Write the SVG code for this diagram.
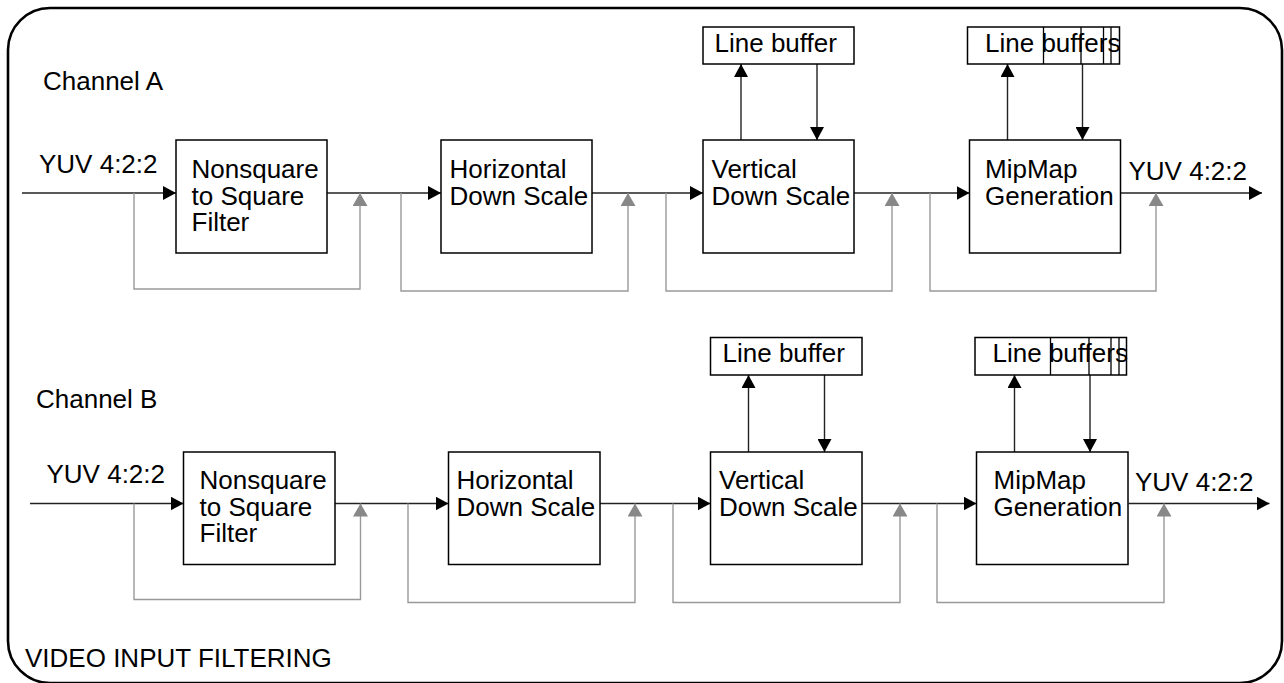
<svg xmlns="http://www.w3.org/2000/svg" width="1284" height="683" viewBox="0 0 1284 683">
  <style>
    text { font-family: "Liberation Sans", Arial, sans-serif; font-size: 26px; fill: #000; }
    .box { fill: #fff; stroke: #000; stroke-width: 1.5; }
    .div { stroke: #000; stroke-width: 1.3; fill: none; }
    .flow { fill: none; stroke: #222; stroke-width: 1.4; }
    .bypass { fill: none; stroke: #999; stroke-width: 1.4; }
    .frame { fill: none; stroke: #000; stroke-width: 2.6; }
  </style>
  <defs>
    <marker id="arrow" viewBox="0 0 13 14" refX="13" refY="7" markerWidth="13" markerHeight="14" markerUnits="userSpaceOnUse" orient="auto">
      <path d="M0,0 L13,7 L0,14 Z" fill="#000"/>
    </marker>
    <marker id="arrow-gray" viewBox="0 0 13 15" refX="13" refY="7.5" markerWidth="13" markerHeight="15" markerUnits="userSpaceOnUse" orient="auto">
      <path d="M0,0 L13,7.5 L0,15 Z" fill="#888"/>
    </marker>
  </defs>

  <rect class="frame" x="8" y="8" width="1274" height="675" rx="42" ry="42"/>

  <text x="43" y="90">Channel A</text>
  <text x="36" y="407.5">Channel B</text>
  <text x="25" y="667">VIDEO INPUT FILTERING</text>

  <!-- connectors -->
  <g id="connectors">
    <!-- channel A signal path -->
    <path class="flow" d="M22,193 H176" marker-end="url(#arrow)"/>
    <path class="flow" d="M327,193 H441" marker-end="url(#arrow)"/>
    <path class="flow" d="M592,193 H703" marker-end="url(#arrow)"/>
    <path class="flow" d="M854,193 H969.5" marker-end="url(#arrow)"/>
    <path class="flow" d="M1120.5,193 H1262" marker-end="url(#arrow)"/>
    <path class="flow" d="M741,140 V64" marker-end="url(#arrow)"/>
    <path class="flow" d="M817,64 V140" marker-end="url(#arrow)"/>
    <path class="flow" d="M1007.5,140 V64" marker-end="url(#arrow)"/>
    <path class="flow" d="M1082.5,64 V140" marker-end="url(#arrow)"/>
    <!-- channel A bypasses -->
    <path class="bypass" d="M134,193 V289 H360 V193" marker-end="url(#arrow-gray)"/>
    <path class="bypass" d="M401,193 V291 H628 V193" marker-end="url(#arrow-gray)"/>
    <path class="bypass" d="M666,193 V291 H892 V193" marker-end="url(#arrow-gray)"/>
    <path class="bypass" d="M930,193 V291 H1156 V193" marker-end="url(#arrow-gray)"/>

    <!-- channel B signal path -->
    <path class="flow" d="M30,503.5 H183.5" marker-end="url(#arrow)"/>
    <path class="flow" d="M335,503.5 H448.5" marker-end="url(#arrow)"/>
    <path class="flow" d="M600,503.5 H710.5" marker-end="url(#arrow)"/>
    <path class="flow" d="M862,503.5 H976.5" marker-end="url(#arrow)"/>
    <path class="flow" d="M1128.5,503.5 H1269.5" marker-end="url(#arrow)"/>
    <path class="flow" d="M748.5,452 V375" marker-end="url(#arrow)"/>
    <path class="flow" d="M824.5,375 V452" marker-end="url(#arrow)"/>
    <path class="flow" d="M1014.5,452 V375" marker-end="url(#arrow)"/>
    <path class="flow" d="M1090,375 V452" marker-end="url(#arrow)"/>
    <!-- channel B bypasses -->
    <path class="bypass" d="M134,503.5 V599.5 H360.5 V503.5" marker-end="url(#arrow-gray)"/>
    <path class="bypass" d="M408,503.5 V602.5 H635 V503.5" marker-end="url(#arrow-gray)"/>
    <path class="bypass" d="M673,503.5 V602.5 H900 V503.5" marker-end="url(#arrow-gray)"/>
    <path class="bypass" d="M937,503.5 V602.5 H1164 V503.5" marker-end="url(#arrow-gray)"/>
  </g>

  <!-- channel A blocks -->
  <g id="a-in-label"><text x="39" y="172.5">YUV 4:2:2</text></g>
  <g id="a-nonsquare">
    <rect class="box" x="176" y="140" width="151" height="113"/>
    <text x="191.5" y="178">Nonsquare</text>
    <text x="191.5" y="204.5">to Square</text>
    <text x="191.5" y="231">Filter</text>
  </g>
  <g id="a-horizontal">
    <rect class="box" x="441" y="140" width="151" height="113"/>
    <text x="449.5" y="178">Horizontal</text>
    <text x="449.5" y="204.5">Down Scale</text>
  </g>
  <g id="a-vertical">
    <rect class="box" x="703" y="140" width="151" height="113"/>
    <text x="711.5" y="178">Vertical</text>
    <text x="711.5" y="204.5">Down Scale</text>
  </g>
  <g id="a-mipmap">
    <rect class="box" x="969.5" y="140" width="151" height="113"/>
    <text x="985" y="178">MipMap</text>
    <text x="985" y="204.5">Generation</text>
  </g>
  <g id="a-linebuffer">
    <rect class="box" x="703" y="27" width="151" height="37"/>
    <text x="714.5" y="52">Line buffer</text>
  </g>
  <g id="a-linebuffers">
    <rect class="box" x="967.5" y="27" width="152" height="37"/>
    <text x="985" y="52">Line buffers</text>
    <path class="div" d="M1043.5,27 V64 M1081,27 V64 M1103.5,27 V64 M1111,27 V64"/>
  </g>
  <g id="a-out-label"><text x="1128.5" y="180">YUV 4:2:2</text></g>

  <!-- channel B blocks -->
  <g id="b-in-label"><text x="46.5" y="483">YUV 4:2:2</text></g>
  <g id="b-nonsquare">
    <rect class="box" x="183.5" y="452" width="151.5" height="112.5"/>
    <text x="199.5" y="489">Nonsquare</text>
    <text x="199.5" y="515.5">to Square</text>
    <text x="199.5" y="542">Filter</text>
  </g>
  <g id="b-horizontal">
    <rect class="box" x="448.5" y="452" width="151.5" height="112.5"/>
    <text x="456.5" y="489">Horizontal</text>
    <text x="456.5" y="515.5">Down Scale</text>
  </g>
  <g id="b-vertical">
    <rect class="box" x="710.5" y="452" width="151.5" height="112.5"/>
    <text x="719" y="489">Vertical</text>
    <text x="719" y="515.5">Down Scale</text>
  </g>
  <g id="b-mipmap">
    <rect class="box" x="976.5" y="452" width="151.5" height="112.5"/>
    <text x="993.5" y="489">MipMap</text>
    <text x="993.5" y="515.5">Generation</text>
  </g>
  <g id="b-linebuffer">
    <rect class="box" x="710.5" y="337.5" width="151.5" height="37.5"/>
    <text x="722.5" y="362">Line buffer</text>
  </g>
  <g id="b-linebuffers">
    <rect class="box" x="975" y="337.5" width="151.5" height="37.5"/>
    <text x="992.5" y="362">Line buffers</text>
    <path class="div" d="M1050.5,337.5 V375 M1089,337.5 V375 M1111,337.5 V375 M1119,337.5 V375"/>
  </g>
  <g id="b-out-label"><text x="1135" y="491">YUV 4:2:2</text></g>
</svg>
